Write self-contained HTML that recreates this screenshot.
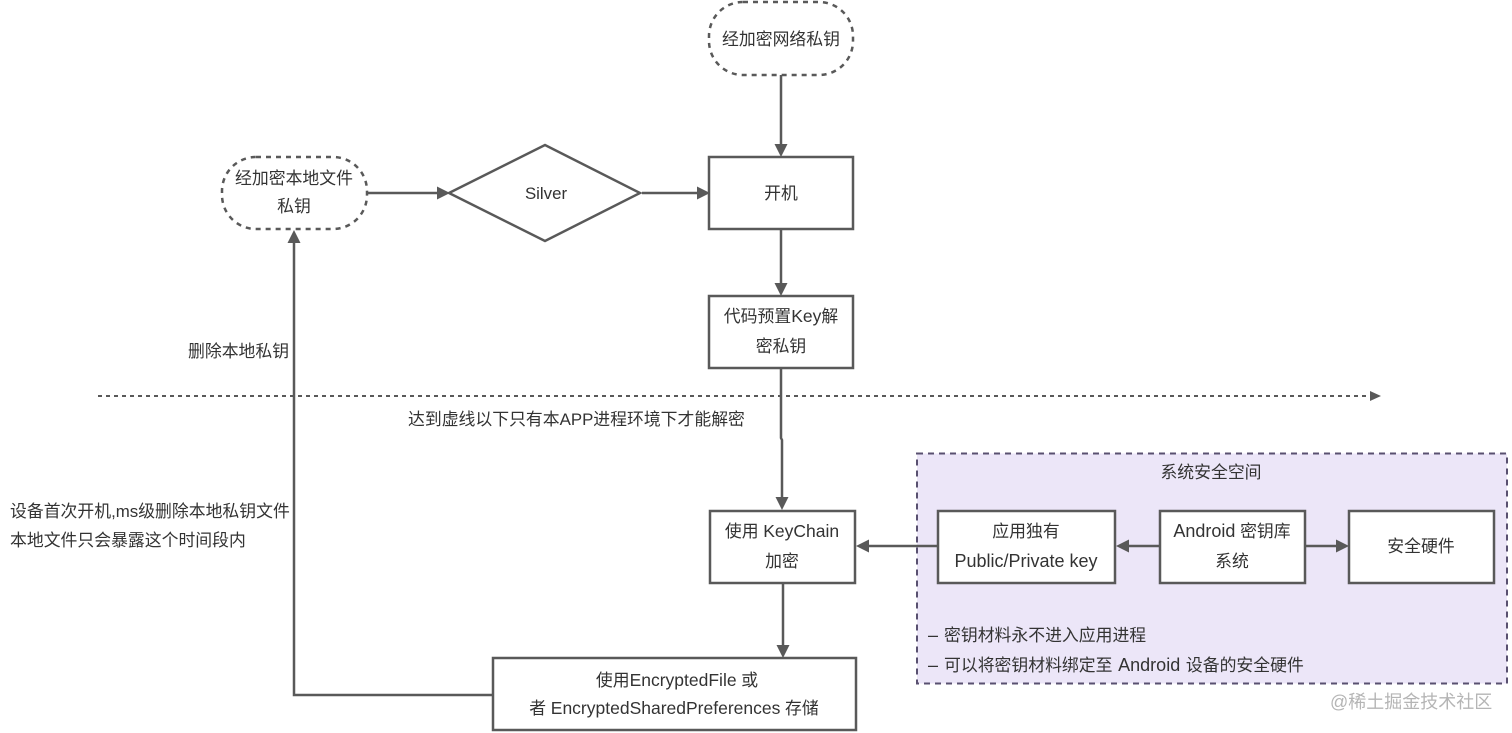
<!DOCTYPE html>
<html>
<head>
<meta charset="utf-8">
<style>
html,body{margin:0;padding:0;background:#fff;width:1512px;height:733px;overflow:hidden}
svg{display:block}
text{font-family:"Liberation Sans","Noto Sans CJK SC",sans-serif;font-size:16.85px;fill:#333}
.m{text-anchor:middle}
.e{font-size:17.5px}
.f{font-size:18px}
.b{fill:#fff;stroke:#595959;stroke-width:2.5}
.l{fill:none;stroke:#595959;stroke-width:2.5}
.a{fill:#595959}
</style>
</head>
<body>
<svg width="1512" height="733" viewBox="0 0 1512 733" xmlns="http://www.w3.org/2000/svg">
<rect x="917" y="453.500" width="590" height="230" fill="#ece6f8" stroke="#595070" stroke-width="2" stroke-dasharray="6 5"/>

<rect x="709" y="2" width="144" height="73" rx="34" fill="#fff" stroke="#595959" stroke-width="2.500" stroke-dasharray="5 5"/>
<rect x="222" y="157" width="145" height="72" rx="34" fill="#fff" stroke="#595959" stroke-width="2.500" stroke-dasharray="5 5"/>
<polygon class="b" points="449,193 545,145 640,193 545,241"/>
<rect class="b" x="709" y="157" width="144" height="72"/>
<rect class="b" x="709" y="296" width="144" height="72"/>
<rect class="b" x="710" y="511" width="145" height="72"/>
<rect class="b" x="493" y="658" width="363" height="72"/>
<rect class="b" x="938" y="511" width="177" height="72"/>
<rect class="b" x="1160" y="511" width="145" height="72"/>
<rect class="b" x="1349" y="511" width="145" height="72"/>

<path class="l" d="M781 75V146"/><path class="a" d="M774.500 144H787.500L781 157Z"/>
<path class="l" d="M367 193H438"/><path class="a" d="M437 186.500V199.500L450 193Z"/>
<path class="l" d="M642 193H698"/><path class="a" d="M697 186.500V199.500L710 193Z"/>
<path class="l" d="M781 229V285"/><path class="a" d="M774.500 283H787.500L781 296Z"/>
<path class="l" d="M781 368V438L782 440V499"/><path class="a" d="M775.500 497H788.500L782 510Z"/>
<path class="l" d="M783 583V647"/><path class="a" d="M776.500 645H789.500L783 658Z"/>
<path class="l" d="M493 695H294V241"/><path class="a" d="M287.500 243H300.500L294 230Z"/>
<path class="l" d="M938 546H866"/><path class="a" d="M869 539.500V552.500L856 546Z"/>
<path class="l" d="M1160 546H1126"/><path class="a" d="M1129 539.500V552.500L1116 546Z"/>
<path class="l" d="M1305 546H1338"/><path class="a" d="M1336 539.500V552.500L1349 546Z"/>
<path d="M98 396H1370" fill="none" stroke="#595959" stroke-width="2" stroke-dasharray="4 4"/>
<path class="a" d="M1370 391V401L1381 396Z"/>

<text class="m" x="781" y="45">经加密网络私钥</text>
<text class="m" x="294" y="184">经加密本地文件</text>
<text class="m" x="294" y="212">私钥</text>
<text class="m" x="546" y="199">Silver</text>
<text class="m" x="781" y="199">开机</text>
<text class="m" x="781" y="322">代码预置<tspan class="e">Key</tspan>解</text>
<text class="m" x="781" y="352">密私钥</text>
<text x="188" y="357">删除本地私钥</text>
<text x="408" y="425">达到虚线以下只有本APP进程环境下才能解密</text>
<text x="10" y="517">设备首次开机,ms级删除本地私钥文件</text>
<text x="10" y="546">本地文件只会暴露这个时间段内</text>
<text class="m" x="782" y="537">使用 <tspan class="e">KeyChain</tspan></text>
<text class="m" x="782" y="567">加密</text>
<text class="m" x="677" y="686">使用<tspan class="e">EncryptedFile</tspan> 或</text>
<text class="m" x="674" y="714">者 <tspan class="e">EncryptedSharedPreferences</tspan> 存储</text>
<text class="m" x="1211" y="478">系统安全空间</text>
<text class="m" x="1026" y="537">应用独有</text>
<text class="m f" x="1026" y="567">Public/Private key</text>
<text class="m" x="1232" y="537"><tspan class="f">Android</tspan> 密钥库</text>
<text class="m" x="1232" y="567">系统</text>
<text class="m" x="1421" y="552">安全硬件</text>
<text x="928" y="641"><tspan class="f">– </tspan><tspan dx="1">密钥材料永不进入应用进程</tspan></text>
<text x="928" y="671"><tspan class="f">– </tspan><tspan dx="1">可以将密钥材料绑定至</tspan> <tspan class="f" dx="1">Android</tspan> <tspan dx="1">设备的安全硬件</tspan></text>
<text x="1330" y="708" style="font-size:18px;fill:#b5b5b5">@稀土掘金技术社区</text>
</svg>
</body>
</html>
